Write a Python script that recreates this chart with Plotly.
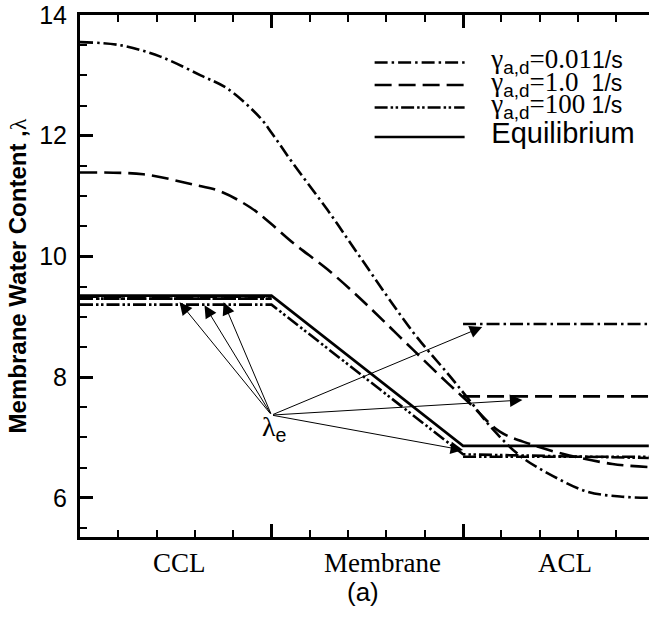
import plotly.graph_objects as go

# ---------------- data ----------------
# x: 0-1 = CCL, 1-2 = Membrane, 2-3 = ACL (right edge cropped at ~2.97)
x_g001 = [0, 0.21, 0.42, 0.63, 0.77, 0.94, 1.0, 1.11, 1.29, 1.46, 1.74, 1.93, 2.05, 2.14, 2.30, 2.47, 2.65, 2.82, 2.97]
y_g001 = [13.55, 13.5, 13.31, 13.0, 12.78, 12.3, 12.05, 11.55, 10.78, 10.0, 8.74, 8.02, 7.55, 7.19, 6.69, 6.36, 6.1, 6.02, 6.0]

x_g1 = [0, 0.33, 0.59, 0.73, 0.89, 0.99, 1.11, 1.29, 1.43, 1.53, 1.74, 1.92, 2.04, 2.19, 2.35, 2.52, 2.78, 2.97]
y_g1 = [11.39, 11.36, 11.19, 11.08, 10.81, 10.56, 10.23, 9.79, 9.4, 9.1, 8.45, 7.9, 7.55, 7.1, 6.89, 6.73, 6.56, 6.51]

x_g100 = [0, 1.0, 2.0, 2.5, 2.97]
y_g100 = [9.2, 9.2, 6.72, 6.69, 6.66]

x_eq = [0, 1.0, 2.0, 2.97]
y_eq = [9.35, 9.35, 6.86, 6.86]

# equilibrium water content lambda_e in the catalyst layers
x_ccl = [0, 1.0]
x_acl = [2.0, 2.97]
le_ccl_g001 = [9.30, 9.30]
le_ccl_g1 = [9.33, 9.33]
le_ccl_g100 = [9.30, 9.30]
le_acl_g001 = [8.88, 8.88]
le_acl_g1 = [7.68, 7.68]
le_acl_g100 = [6.68, 6.68]

# arrows from the lambda_e label
arrow_origin = (1.0, 7.37)
arrow_tip_x = [0.52, 0.65, 0.75, 2.10, 2.31, 2.0]
arrow_tip_y = [9.24, 9.19, 9.24, 8.83, 7.62, 6.79]

region_labels = ["CCL", "Membrane", "ACL"]
region_label_x = [0.52, 1.58, 2.53]

y_ticks = [6, 8, 10, 12, 14]

# ---------------- styles ----------------
DASHDOT = "13px,4px,2.5px,4px"
DASH = "17px,7px"
DASHDOTDOT = "13px,3px,2.5px,2.5px,2.5px,3px"
LW = 2.6
GAP = '<span style="font-size:26px">&nbsp;&nbsp;&nbsp;</span>'

def name_gamma(val, unit):
    return (GAP + '<span style="font-size:27px"><span style="font-family:Liberation Serif">γ</span>'
            '<sub>a,d</sub><span style="font-family:Liberation Serif">' + val + '</span>'
            '<span style="font-size:23px">' + unit + '</span></span>')

fig = go.Figure()

fig.add_trace(go.Scatter(x=x_g001, y=y_g001, mode="lines", line=dict(color="black", width=LW, dash=DASHDOT, shape="spline", smoothing=1.0),
                         name=name_gamma("=0.01", "1/s"), legendgroup="a"))
fig.add_trace(go.Scatter(x=x_g1, y=y_g1, mode="lines", line=dict(color="black", width=LW, dash=DASH, shape="spline", smoothing=1.0),
                         name=name_gamma("=1.0 ", " 1/s"), legendgroup="a"))
fig.add_trace(go.Scatter(x=x_g100, y=y_g100, mode="lines", line=dict(color="black", width=LW, dash=DASHDOTDOT),
                         name=name_gamma("=100", " 1/s"), legendgroup="a"))
fig.add_trace(go.Scatter(x=x_eq, y=y_eq, mode="lines", line=dict(color="black", width=LW),
                         name=GAP + '<span style="font-size:29px">Equilibrium</span>', legendgroup="b"))

for xs, ys, d in [(x_ccl, le_ccl_g001, DASHDOT), (x_ccl, le_ccl_g1, DASH), (x_ccl, le_ccl_g100, DASHDOTDOT),
                  (x_acl, le_acl_g001, DASHDOT), (x_acl, le_acl_g1, DASH), (x_acl, le_acl_g100, DASHDOTDOT)]:
    fig.add_trace(go.Scatter(x=xs, y=ys, mode="lines", line=dict(color="black", width=LW, dash=d), showlegend=False))

annotations = []
for tx, ty in zip(arrow_tip_x, arrow_tip_y):
    annotations.append(dict(x=tx, y=ty, ax=arrow_origin[0], ay=arrow_origin[1], xref="x", yref="y",
                            axref="x", ayref="y", text="", showarrow=True, arrowhead=2, arrowsize=2.5,
                            arrowwidth=1, arrowcolor="black", standoff=0))
annotations.append(dict(x=1.013, y=7.14, xref="x", yref="y", showarrow=False,
                        text='<span style="font-family:Liberation Serif;font-size:28px">λ</span><sub>e</sub>',
                        font=dict(family="Arial, Liberation Sans", size=28, color="black"),
                        xanchor="center", yanchor="middle"))
for lab, lx in zip(region_labels, region_label_x):
    annotations.append(dict(x=lx, y=-0.05, xref="x", yref="paper", text=lab, showarrow=False,
                            font=dict(family="Liberation Serif, Times New Roman", size=27, color="black"),
                            xanchor="center", yanchor="middle"))
annotations.append(dict(x=1.48, y=-0.106, xref="x", yref="paper", text="(a)", showarrow=False,
                        font=dict(family="Arial, Liberation Sans", size=26, color="black"),
                        xanchor="center", yanchor="middle"))

XR = [0, 2.971]
YR = [5.35, 14.0]

fig.update_layout(
    width=649, height=620,
    margin=dict(l=80, r=0, t=15, b=83),
    paper_bgcolor="white", plot_bgcolor="white",
    font=dict(family="Arial, Liberation Sans", color="black"),
    showlegend=True,
    legend=dict(x=0.509, y=0.94, xanchor="left", yanchor="top", bgcolor="rgba(0,0,0,0)",
                font=dict(size=15, family="Arial, Liberation Sans", color="black"),
                itemwidth=90, tracegroupgap=7),
    annotations=annotations,
    xaxis=dict(range=XR, showgrid=False, zeroline=False, showline=True, linecolor="black", linewidth=3,
               mirror="ticks", ticks="inside", ticklen=13, tickwidth=3, tickcolor="black",
               tickvals=[1, 2], ticktext=["", ""],
               minor=dict(dtick=0.2, tick0=0, ticks="inside", ticklen=7, tickwidth=1.5, tickcolor="black", showgrid=False)),
    yaxis=dict(range=YR, showgrid=False, zeroline=False, showline=True, linecolor="black", linewidth=3,
               ticks="inside", ticklen=13, tickwidth=3, tickcolor="black", tickvals=y_ticks,
               tickfont=dict(size=25, family="Arial, Liberation Sans"), ticklabelstandoff=5,
               minor=dict(dtick=0.5, tick0=0, ticks="inside", ticklen=7, tickwidth=1.5, tickcolor="black", showgrid=False),
               title=dict(text='Membrane Water Content ,<span style="font-family:Liberation Serif;font-weight:normal">λ</span>',
                          font=dict(size=24, family="Arial, Liberation Sans", weight="bold"), standoff=6)),
    yaxis2=dict(range=YR, overlaying="y", side="right", showgrid=False, zeroline=False, showline=False,
                ticks="inside", ticklen=13, tickwidth=3, tickcolor="black", tickvals=y_ticks, showticklabels=False,
                minor=dict(dtick=0.5, tick0=0, ticks="inside", ticklen=7, tickwidth=1.5, tickcolor="black", showgrid=False)),
)

fig.write_html("out.html")
